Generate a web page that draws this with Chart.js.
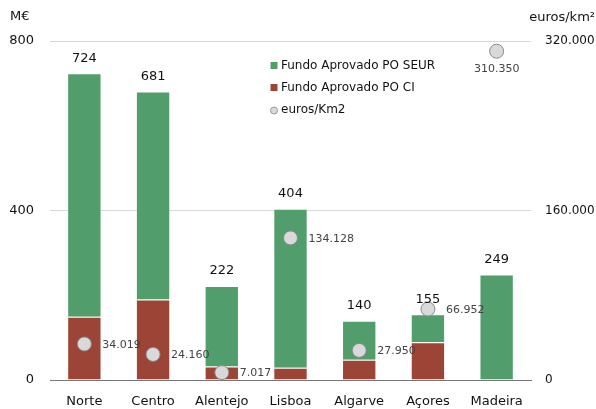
<!DOCTYPE html>
<html><head><meta charset="utf-8">
<script src="https://cdn.jsdelivr.net/npm/chart.js@4"></script>
<style>html,body{margin:0;padding:0;background:#fff}#wrap{width:596px;height:409px;position:relative}</style>
</head><body><div id="wrap"><canvas id="c" width="596" height="409"></canvas></div>
<script>
const categories = ["Norte","Centro","Alentejo","Lisboa","Algarve","Açores","Madeira"];
const fundoCI = [149,190,32,29,48,89,0];
const fundoSEUR = [575,491,190,375,92,66,249];
const eurosKm2 = [34019,24160,7017,134128,27950,66952,310350];
const leftTicks = [0,400,800];
const rightTicks = [0,160000,320000];

const FONT = "'DejaVu Sans', sans-serif";
const GREEN = '#519d6b', RED = '#9c4435';
function fmt(v){ return String(v).replace(/\B(?=(\d{3})+(?!\d))/g,'.'); }

const labelsPlugin = {
  id:'labelsPlugin',
  afterDatasetsDraw(chart){
    const ctx = chart.ctx;
    const mSEUR = chart.getDatasetMeta(1);
    const mPts = chart.getDatasetMeta(2);
    ctx.save();
    ctx.font = "13px " + FONT; ctx.fillStyle = '#111'; ctx.textAlign='center'; ctx.textBaseline='middle';
    categories.forEach((c,i)=>{
      const b = mSEUR.data[i];
      ctx.fillText(String(fundoCI[i]+fundoSEUR[i]), b.x, b.y - 15);
    });
    ctx.font = "11px " + FONT; ctx.fillStyle = '#444';
    categories.forEach((c,i)=>{
      const p = mPts.data[i];
      if (i === categories.length-1) { ctx.textAlign='center'; ctx.fillText(fmt(eurosKm2[i]), p.x, p.y + 18); }
      else { ctx.textAlign='left'; ctx.fillText(fmt(eurosKm2[i]), p.x + 18, p.y + 1); }
    });
    // axis titles
    ctx.font = "13px " + FONT; ctx.fillStyle = '#111';
    ctx.textAlign='left'; ctx.fillText('M€', 10, 17);
    ctx.textAlign='right'; ctx.fillText('euros/km²', 595, 18);
    // legend
    const items = [
      {t:'Fundo Aprovado PO SEUR', c:GREEN, s:'sq', y:65.5},
      {t:'Fundo Aprovado PO CI', c:RED, s:'sq', y:87.5},
      {t:'euros/Km2', c:'#d9d9d9', s:'ci', y:110}
    ];
    ctx.font = "12px " + FONT; ctx.textAlign='left';
    items.forEach(it=>{
      if (it.s==='sq'){ ctx.fillStyle = it.c; ctx.fillRect(270.5, it.y-3.5, 7, 7); }
      else { ctx.beginPath(); ctx.arc(274, it.y+0.5, 3.5, 0, Math.PI*2); ctx.fillStyle=it.c; ctx.fill(); ctx.strokeStyle='#999'; ctx.lineWidth=1; ctx.stroke(); }
      ctx.fillStyle='#111'; ctx.fillText(it.t, 281, it.y);
    });
    ctx.restore();
  }
};

new Chart(document.getElementById('c'), {
  data: {
    labels: categories,
    datasets: [
      {type:'bar', label:'Fundo Aprovado PO CI', data:fundoCI, backgroundColor:RED, borderColor:'rgba(255,255,255,0.35)', borderWidth:1, borderSkipped:'bottom', stack:'s', order:1, yAxisID:'y', barPercentage:0.5, categoryPercentage:1},
      {type:'bar', label:'Fundo Aprovado PO SEUR', data:fundoSEUR, backgroundColor:GREEN, borderColor:'rgba(255,255,255,0.35)', borderWidth:1, borderSkipped:'bottom', stack:'s', order:2, yAxisID:'y', barPercentage:0.5, categoryPercentage:1},
      {type:'line', label:'euros/Km2', data:eurosKm2, showLine:false, pointRadius:7, pointHoverRadius:7, pointBackgroundColor:'#d9d9d9', pointBorderColor:'#8a8a8a', pointBorderWidth:1, order:0, yAxisID:'y2'}
    ]
  },
  options: {
    responsive:false, animation:false, devicePixelRatio:1,
    layout:{padding:{top:41, left:0, right:0, bottom:0}},
    plugins:{legend:{display:false}, tooltip:{enabled:false}},
    scales:{
      x:{stacked:true, grid:{display:false, drawTicks:false}, border:{display:true, color:'#777', width:1},
         ticks:{color:'#111', font:{family:FONT, size:13}, padding:14},
         afterFit(s){ s.height = 29; }},
      y:{position:'left', stacked:true, min:0, max:800, afterBuildTicks(s){ s.ticks = leftTicks.map(v=>({value:v})); },
         grid:{color:(c)=> c.tick && c.tick.value===0 ? 'rgba(0,0,0,0)' : '#d8d8d8', drawTicks:false, lineWidth:1},
         border:{display:false},
         ticks:{color:'#111', font:{family:FONT, size:13}, padding:16},
         afterFit(s){ s.width = 50; }},
      y2:{position:'right', min:0, max:320000, afterBuildTicks(s){ s.ticks = rightTicks.map(v=>({value:v})); },
         grid:{display:false, drawTicks:false}, border:{display:false},
         ticks:{color:'#111', font:{family:FONT, size:12}, padding:14, callback:(v)=>fmt(v)},
         afterFit(s){ s.width = 65; }}
    }
  },
  plugins:[labelsPlugin]
});
</script></body></html>
